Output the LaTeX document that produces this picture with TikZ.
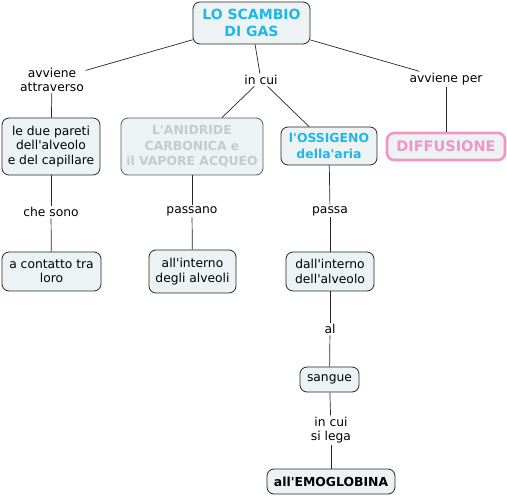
\documentclass[tikz,border=0pt]{standalone}
\usepackage{fontspec}
\newfontfamily\mapfont{DejaVu Sans}
\definecolor{mapBoxFill}{RGB}{237,243,245}
\definecolor{mapCyan}{RGB}{30,184,232}
\definecolor{mapGrey}{RGB}{198,202,203}
\definecolor{mapPink}{RGB}{241,150,196}
\begin{document}
\begin{tikzpicture}[x=1pt, y=-1pt,
  concept/.style={draw=black!85, fill=mapBoxFill, rounded corners=7pt, line width=0.8pt,
    align=center, inner sep=0pt, font=\mapfont\fontsize{12.3}{14.5}\selectfont},
  boldconcept/.style={concept, font=\mapfont\bfseries\fontsize{12.4}{15.5}\selectfont},
  linkword/.style={align=center, inner sep=1.5pt, font=\mapfont\fontsize{12.3}{14}\selectfont}]
% Map exported from the concept tool
\providecommand{\mapLineColor}{black!85}
\providecommand{\mapLineWidth}{0.7pt}
\useasboundingbox (0,0) rectangle (507,497);
  % Concepts
  \node[boldconcept, minimum width=117, minimum height=42, text=mapCyan,
    font=\mapfont\bfseries\fontsize{14}{17}\selectfont] (scambio) at (251.5,23) {LO SCAMBIO\\DI GAS};
  \node[concept, minimum width=98, minimum height=57] (pareti) at (51,146.5) {le due pareti\\dell'alveolo\\e del capillare};
  \node[boldconcept, draw=black!65, minimum width=142, minimum height=57, text=mapGrey] (anidride) at (192,146.5) {L'ANIDRIDE\\CARBONICA e\\il VAPORE ACQUEO};
  \node[boldconcept, minimum width=96, minimum height=38, text=mapCyan] (ossigeno) at (329,146) {l'OSSIGENO\\della'aria};
  \node[boldconcept, draw=mapPink, line width=2.6pt, minimum width=118, minimum height=27, text=mapPink,
    font=\mapfont\bfseries\fontsize{14.5}{16}\selectfont] (diffusione) at (446,146.5) {DIFFUSIONE};
  \node[concept, minimum width=99, minimum height=39] (contatto) at (51.5,271.5) {a contatto tra\\loro};
  \node[concept, minimum width=87, minimum height=43] (alveoli) at (192.5,271.5) {all'interno\\degli alveoli};
  \node[concept, minimum width=88, minimum height=39] (alveolo) at (330,271.5) {dall'interno\\dell'alveolo};
  \node[concept, minimum width=59, minimum height=25] (sangue) at (329.5,379.5) {sangue};
  \node[boldconcept, minimum width=128, minimum height=25] (emoglobina) at (331,481.5) {all'EMOGLOBINA};
  % Linking phrases
  \node[linkword] (attraverso) at (52,80) {avviene\\attraverso};
  \node[linkword] (incui) at (261,80) {in cui};
  \node[linkword] (avvieneper) at (446,79) {avviene per};
  \node[linkword] (chesono) at (51,212) {che sono};
  \node[linkword] (passano) at (192,211) {passano};
  \node[linkword] (passa) at (330,211) {passa};
  \node[linkword] (al) at (330,329) {al};
  \node[linkword] (silega) at (331,430) {in cui\\si lega};
  % Connectors
  \begin{scope}[draw=\mapLineColor, line width=\mapLineWidth]
    \draw (scambio) -- (attraverso);
    \draw (attraverso) -- (pareti);
    \draw (scambio) -- (incui);
    \draw (incui) -- (anidride);
    \draw (incui) -- (ossigeno);
    \draw (scambio) -- (avvieneper);
    \draw (avvieneper) -- (diffusione);
    \draw (pareti) -- (chesono);
    \draw (chesono) -- (contatto);
    \draw (anidride) -- (passano);
    \draw (passano) -- (alveoli);
    \draw (ossigeno) -- (passa);
    \draw (passa) -- (alveolo);
    \draw (alveolo) -- (al);
    \draw (al) -- (sangue);
    \draw (sangue) -- (silega);
    \draw (silega) -- (emoglobina);
  \end{scope}
\end{tikzpicture}
\end{document}
